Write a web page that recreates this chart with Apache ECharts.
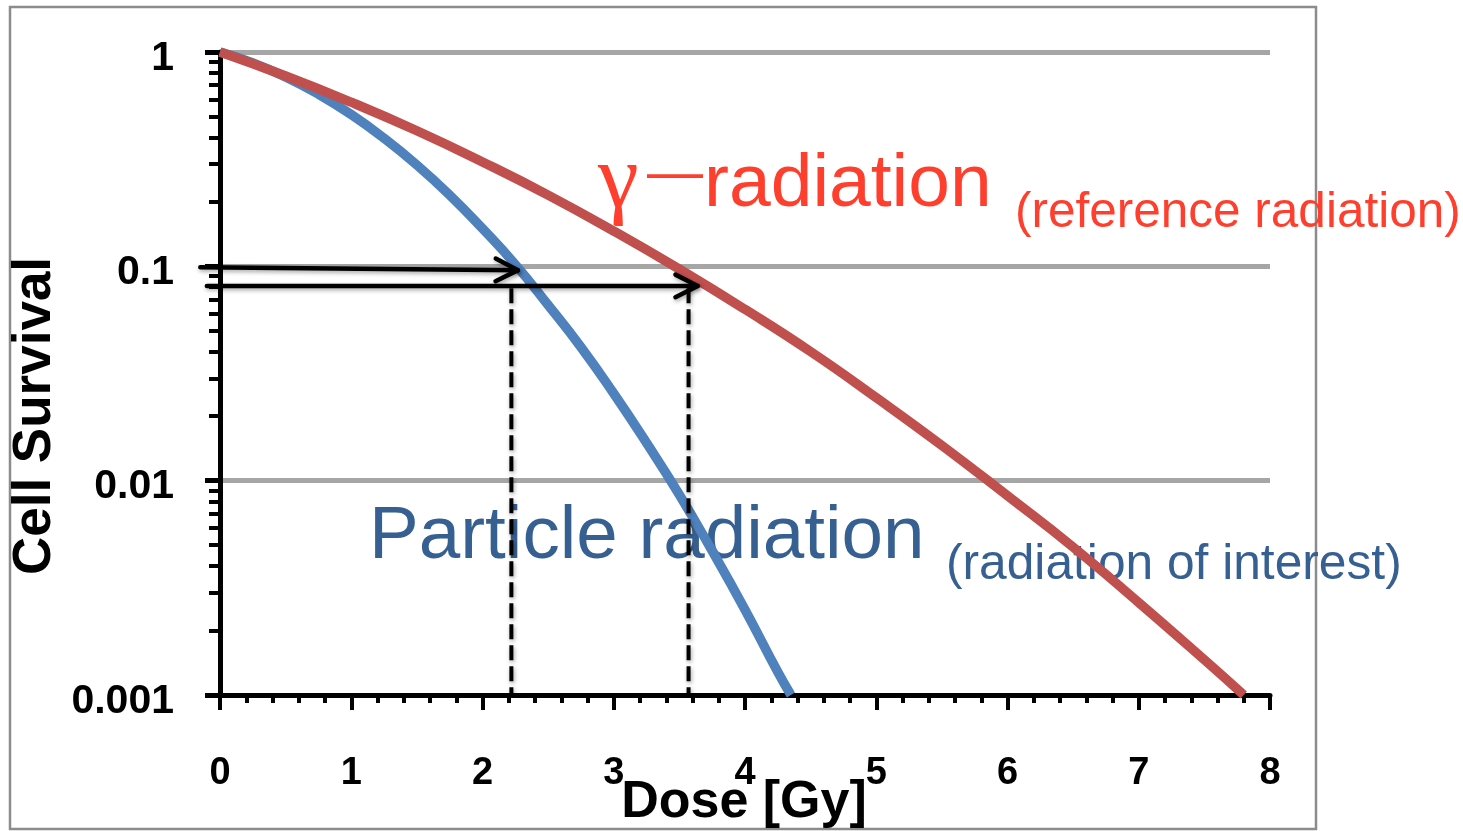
<!DOCTYPE html>
<html>
<head>
<meta charset="utf-8">
<title>Cell Survival vs Dose</title>
<script src="https://cdn.jsdelivr.net/npm/echarts@6/dist/echarts.min.js"></script>
<style>
  html, body { margin: 0; padding: 0; background: #ffffff; }
  #chart { width: 1463px; height: 831px; }
</style>
</head>
<body>
<div id="chart"></div>
<script>
// Survival curve of the reference (gamma) radiation
const doseGamma = [0, 0.5, 1, 1.5, 2, 2.5, 3, 3.5, 4, 4.5, 5, 5.5, 6, 6.5, 7, 7.5, 7.8];
const survivalGamma = [1, 0.773, 0.583, 0.429, 0.307, 0.215, 0.146, 0.097, 0.063, 0.040, 0.0244, 0.0146, 0.0085, 0.0049, 0.0027, 0.00146, 0.001];

// Survival curve of the particle radiation
const doseParticle = [0, 0.25, 0.5, 0.75, 1, 1.25, 1.5, 1.75, 2, 2.25, 2.5, 2.75, 3, 3.25, 3.5, 3.75, 4, 4.25, 4.35];
const survivalParticle = [1, 0.89, 0.765, 0.636, 0.511, 0.396, 0.297, 0.215, 0.150, 0.102, 0.066, 0.042, 0.0255, 0.015, 0.0086, 0.0047, 0.0025, 0.00128, 0.001];

// Iso-effect arrows: [dose start, survival start, dose end, survival end]
const arrowStartDose = [-0.15, -0.1];
const arrowStartSurvival = [0.099, 0.081];
const arrowEndDose = [2.27, 3.64];
const arrowEndSurvival = [0.096, 0.081];

// Dashed drop lines from the arrow tips down to the dose axis
const guideDose = [2.22, 3.57];
const guideTopSurvival = [0.079, 0.079];
const guideBottomSurvival = [0.001, 0.001];

// Axis ticks and labels
const doseTicks = ['0', '1', '2', '3', '4', '5', '6', '7', '8'];
const survivalTickLabels = ['0.001', '0.01', '0.1', '1'];
const survivalMinorTicks = [
  0.002, 0.003, 0.004, 0.005, 0.006, 0.007, 0.008, 0.009,
  0.02, 0.03, 0.04, 0.05, 0.06, 0.07, 0.08, 0.09,
  0.2, 0.3, 0.4, 0.5, 0.6, 0.7, 0.8, 0.9
];

const SANS = '"Liberation Sans", Arial, Helvetica, sans-serif';
const SERIF = '"Liberation Serif", "Times New Roman", serif';
const RED_TEXT = '#ff3f2e';
const BLUE_TEXT = '#376092';

const gammaData = doseGamma.map((d, i) => [d, survivalGamma[i]]);
const particleData = doseParticle.map((d, i) => [d, survivalParticle[i]]);
const arrowData = arrowStartDose.map((d, i) => [d, arrowStartSurvival[i], arrowEndDose[i], arrowEndSurvival[i]]);

const lineShadow = {
  shadowBlur: 4,
  shadowColor: 'rgba(0,0,0,0.35)',
  shadowOffsetX: 1,
  shadowOffsetY: 2
};

const guideSeries = guideDose.map((d, i) => ({
  type: 'line',
  xAxisIndex: 0,
  yAxisIndex: 0,
  symbol: 'none',
  silent: true,
  z: 4,
  data: [[d, guideTopSurvival[i]], [d, guideBottomSurvival[i]]],
  lineStyle: Object.assign({ color: '#000000', width: 4, type: [15, 6] }, lineShadow)
}));

const chart = echarts.init(document.getElementById('chart'), null, { renderer: 'canvas' });

const option = {
  animation: false,
  backgroundColor: '#ffffff',
  grid: {
    left: 220,
    right: 193,
    top: 52,
    bottom: 136,
    outerBoundsMode: 'none',
    containLabel: false
  },
  xAxis: {
    type: 'value',
    min: 0,
    max: 8,
    interval: 1,
    axisLine: { show: true, onZero: false, lineStyle: { color: '#000000', width: 5 } },
    axisTick: { show: true, length: 15, lineStyle: { color: '#000000', width: 4 } },
    minorTick: { show: true, splitNumber: 5, length: 8, lineStyle: { color: '#000000', width: 4 } },
    splitLine: { show: false },
    axisLabel: {
      margin: 60,
      color: '#000000',
      fontFamily: SANS,
      fontWeight: 'bold',
      fontSize: 38,
      formatter: (v) => doseTicks[Math.round(v)]
    }
  },
  yAxis: [
    {
      type: 'log',
      logBase: 10,
      min: 0.001,
      max: 1,
      position: 'left',
      axisLine: { show: true, onZero: false, lineStyle: { color: '#000000', width: 5 } },
      axisTick: { show: true, length: 15, lineStyle: { color: '#000000', width: 5 } },
      splitLine: { show: true, lineStyle: { color: '#a6a6a6', width: 5 } },
      axisLabel: {
        margin: 46,
        color: '#000000',
        fontFamily: SANS,
        fontWeight: 'bold',
        fontSize: 41,
        formatter: (v) => '{t|' + survivalTickLabels[Math.round(Math.log10(v)) + 3] + '}',
        rich: {
          t: {
            fontFamily: SANS,
            fontWeight: 'bold',
            fontSize: 41,
            color: '#000000',
            padding: [13, 0, 0, 0]
          }
        }
      }
    },
    {
      // log-decade minor ticks (2..9 within each decade)
      type: 'log',
      logBase: 10,
      min: 0.001,
      max: 1,
      position: 'left',
      offset: 0,
      axisLine: { show: false },
      axisLabel: { show: false },
      splitLine: { show: false },
      axisTick: {
        show: true,
        length: 11,
        customValues: survivalMinorTicks,
        lineStyle: { color: '#000000', width: 4 }
      }
    }
  ],
  series: [
    {
      name: 'Particle radiation',
      type: 'line',
      yAxisIndex: 0,
      smooth: true,
      symbol: 'none',
      z: 3,
      data: particleData,
      lineStyle: { color: '#4f81bd', width: 9.5 }
    },
    {
      name: 'γ-radiation',
      type: 'line',
      yAxisIndex: 0,
      smooth: true,
      symbol: 'none',
      z: 3,
      data: gammaData,
      lineStyle: { color: '#c0504d', width: 9.5 }
    },
    ...guideSeries,
    {
      name: 'iso-effect',
      type: 'custom',
      coordinateSystem: 'cartesian2d',
      yAxisIndex: 0,
      clip: false,
      silent: true,
      z: 5,
      encode: { x: [0, 2], y: [1, 3] },
      data: arrowData,
      renderItem: function (params, api) {
        const p0 = api.coord([api.value(0), api.value(1)]);
        const p1 = api.coord([api.value(2), api.value(3)]);
        const ang = Math.atan2(p1[1] - p0[1], p1[0] - p0[0]);
        const L = 25, A = 0.47;
        const a1 = [p1[0] - L * Math.cos(ang - A), p1[1] - L * Math.sin(ang - A)];
        const a2 = [p1[0] - L * Math.cos(ang + A), p1[1] - L * Math.sin(ang + A)];
        const st = Object.assign({ stroke: '#000000', lineWidth: 4.5, fill: null, lineCap: 'round', lineJoin: 'round' }, lineShadow);
        return {
          type: 'group',
          children: [
            { type: 'line', shape: { x1: p0[0], y1: p0[1], x2: p1[0], y2: p1[1] }, style: st },
            { type: 'polyline', shape: { points: [a1, p1, a2] }, style: st }
          ]
        };
      }
    }
  ],
  graphic: [
    {
      type: 'rect',
      z: -10,
      silent: true,
      shape: { x: 10, y: 7, width: 1306, height: 822 },
      style: { fill: null, stroke: '#8c8c8c', lineWidth: 2.5 }
    },
    {
      type: 'text',
      x: 35, y: 416,
      rotation: Math.PI / 2,
      style: {
        text: 'Cell Survival',
        fontFamily: SANS, fontWeight: 'bold', fontSize: 53,
        fill: '#000000', align: 'center', verticalAlign: 'middle'
      }
    },
    {
      type: 'text',
      x: 744, y: 803,
      z: 20,
      style: {
        text: 'Dose [Gy]',
        fontFamily: SANS, fontWeight: 'bold', fontSize: 52,
        fill: '#000000', align: 'center', verticalAlign: 'middle'
      }
    },
    {
      type: 'text', x: 598, y: 183,
      style: { text: 'γ', fontFamily: SERIF, fontSize: 92, fill: RED_TEXT, align: 'left', verticalAlign: 'middle' }
    },
    {
      type: 'text', x: 647, y: 175,
      style: { text: '—', fontFamily: SANS, fontSize: 56, fill: RED_TEXT, align: 'left', verticalAlign: 'middle' }
    },
    {
      type: 'text', x: 704, y: 185,
      style: { text: 'radiation', fontFamily: SANS, fontSize: 75, fill: RED_TEXT, align: 'left', verticalAlign: 'middle' }
    },
    {
      type: 'text', x: 1015, y: 213,
      style: { text: '(reference radiation)', fontFamily: SANS, fontSize: 49.5, fill: RED_TEXT, align: 'left', verticalAlign: 'middle' }
    },
    {
      type: 'text', x: 369, y: 537,
      style: { text: 'Particle radiation', fontFamily: SANS, fontSize: 74.6, fill: BLUE_TEXT, align: 'left', verticalAlign: 'middle' }
    },
    {
      type: 'text', x: 946, y: 565,
      style: { text: '(radiation of interest)', fontFamily: SANS, fontSize: 49.7, fill: BLUE_TEXT, align: 'left', verticalAlign: 'middle' }
    }
  ]
};

chart.setOption(option);
</script>
</body>
</html>
